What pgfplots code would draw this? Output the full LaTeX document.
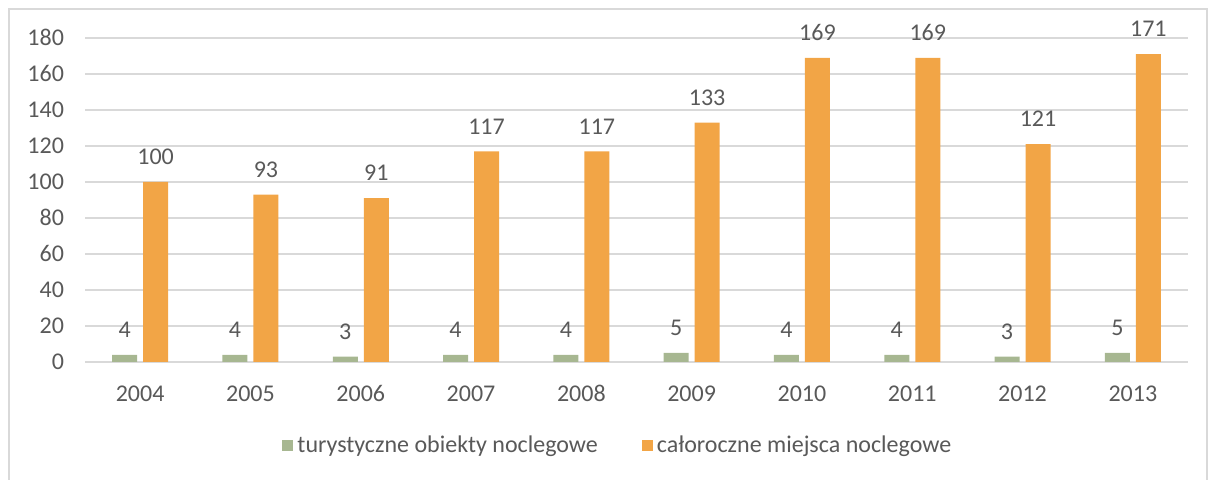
\documentclass[border=0pt]{standalone}
\usepackage{fontspec}
\setmainfont{Carlito}[Numbers=Lining]
\usepackage{pgfplots}
\pgfplotsset{compat=1.18}

\definecolor{txtgray}{HTML}{595959}
\definecolor{gridgray}{HTML}{D9D9D9}
\definecolor{obiekty}{RGB}{167,183,145}
\definecolor{miejsca}{RGB}{242,165,70}

\pgfplotstableread{
x year obiekty miejsca
0 2004 4 100
1 2005 4 93
2 2006 3 91
3 2007 4 117
4 2008 4 117
5 2009 5 133
6 2010 4 169
7 2011 4 169
8 2012 3 121
9 2013 5 171
}\noclegi

\begin{document}
\begin{tikzpicture}
\useasboundingbox (0,0) rectangle (604pt,240pt);
\draw[gridgray, line width=0.75pt] (4.5pt,-5pt) rectangle (603.5pt,235.5pt);
\begin{axis}[
    at={(42.5pt,59pt)}, anchor=south west,
    scale only axis,
    width=551.5pt, height=162pt,
    xmin=-0.5, xmax=9.5,
    ymin=0, ymax=180,
    ytick={0,20,...,180},
    xtick={0,...,9},
    xticklabels={2004,2005,2006,2007,2008,2009,2010,2011,2012,2013},
    axis line style={draw=none},
    major tick length=0pt,
    ymajorgrids,
    grid style={gridgray, line width=0.75pt},
    font=\fontsize{12}{14}\selectfont,
    tick label style={txtgray, font=\fontsize{12}{14}\selectfont},
    /pgf/number format/assume math mode=true,
    yticklabel style={anchor=base east, xshift=-7pt, yshift=-4pt},
    xticklabel style={anchor=base, yshift=-20pt},
    ybar, bar width=12.5pt,
    nodes near coords,
    every node near coord/.append style={txtgray, anchor=base, yshift=8.6pt, font=\fontsize{12}{14}\selectfont},
    legend style={at={(0.484,-0.259)}, anchor=center, legend columns=2, draw=none,
        text=txtgray, font=\fontsize{12}{14}\selectfont,
        /tikz/every even column/.append style={column sep=20pt},
        inner sep=0pt},
    legend image code/.code={\fill[#1] (0pt,-2.75pt) rectangle (5.5pt,2.75pt);},
]
\addplot[fill=obiekty, draw=none, bar shift=-7.75pt] table[x=x, y=obiekty] {\noclegi};
\addlegendentry{turystyczne obiekty noclegowe}
\addplot[fill=miejsca, draw=none, bar shift=7.75pt] table[x=x, y=miejsca] {\noclegi};
\addlegendentry{całoroczne miejsca noclegowe}
\end{axis}
\end{tikzpicture}
\end{document}
